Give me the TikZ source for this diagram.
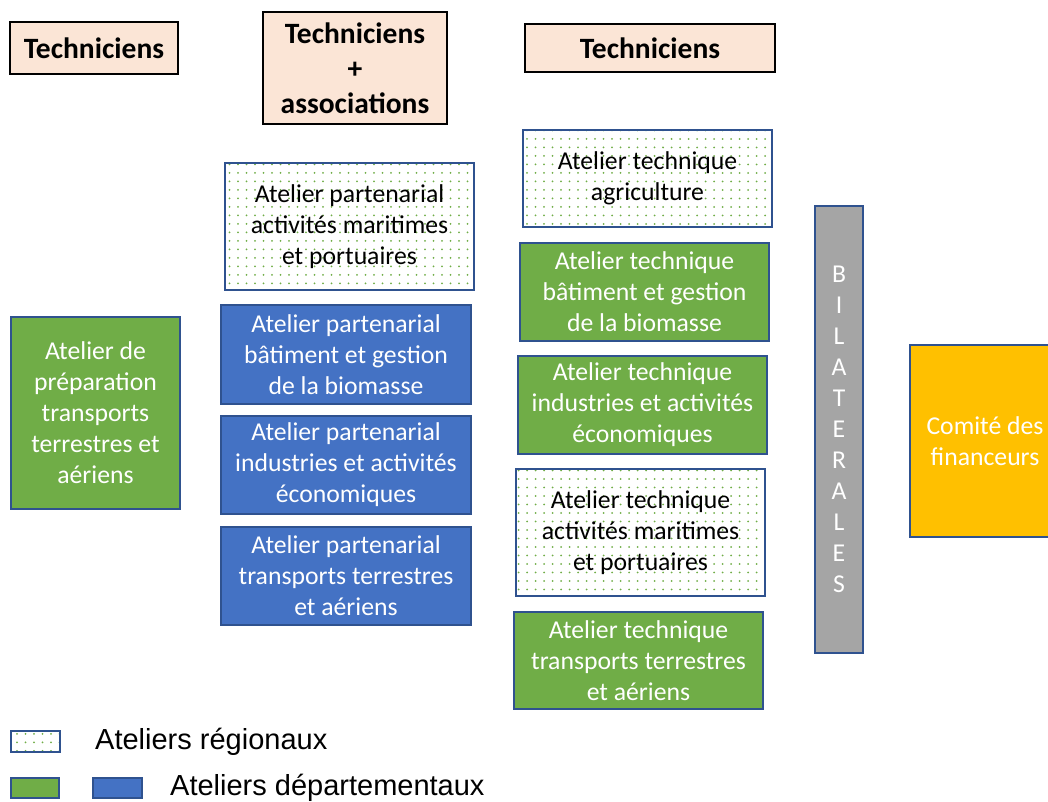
\documentclass[tikz,border=0pt]{standalone}
\usepackage{fontspec}
\setmainfont{Carlito}
\newfontfamily\legendfont{Liberation Sans}
\usetikzlibrary{patterns.meta}
\definecolor{peach}{HTML}{FBE5D6}
\definecolor{edgeblue}{HTML}{2F528F}
\definecolor{deptgreen}{HTML}{70AD47}
\definecolor{deptblue}{HTML}{4472C4}
\definecolor{bilgray}{HTML}{A5A5A5}
\definecolor{gold}{HTML}{FFC000}
\begin{document}
\begin{tikzpicture}[x=1pt,y=-1pt,
  tech/.style={draw=black,line width=2pt,fill=peach,align=center,inner sep=0pt,font=\fontsize{29.5}{35}\selectfont\bfseries},
  box/.style={draw=edgeblue,line width=2.5pt,align=center,inner sep=0pt,font=\fontsize{25.7}{31}\selectfont},
  regional/.style={box,pattern={Dots[distance=8.5pt,radius=1pt]},pattern color=deptgreen},
  deptg/.style={box,fill=deptgreen,text=white},
  deptb/.style={box,fill=deptblue,text=white},
  legend/.style={font=\legendfont\fontsize{29}{34}\selectfont,anchor=west,inner sep=0pt}]
\clip (0,0) rectangle (1048,802);
\node [tech,minimum width=168,minimum height=52] (tech1) at (94,48) {Techniciens};
\node [tech,minimum width=184,minimum height=112] (tech2) at (355,68) {Techniciens\\+\\associations};
\node [tech,minimum width=250,minimum height=48] (tech3) at (650,48) {Techniciens};

\node [deptg,minimum width=169,minimum height=192] (prep) at (95.5,413) {Atelier de\\préparation\\transports\\terrestres et\\aériens};

\node [regional,minimum width=249,minimum height=127] (pmar) at (349.5,226.5) {Atelier partenarial\\activités maritimes\\et portuaires};
\node [deptb,minimum width=250,minimum height=99] (pbat) at (346,354.5) {Atelier partenarial\\bâtiment et gestion\\de la biomasse};
\node [deptb,minimum width=250,minimum height=98] (pind) at (346,465) {Atelier partenarial\\industries et activités\\économiques};
\node [deptb,minimum width=250,minimum height=98] (ptra) at (346,576) {Atelier partenarial\\transports terrestres\\et aériens};

\node [regional,minimum width=249,minimum height=97] (tagr) at (647.5,178.5) {Atelier technique\\agriculture};
\node [deptg,minimum width=249,minimum height=98] (tbat) at (644.5,292) {Atelier technique\\bâtiment et gestion\\de la biomasse};
\node [deptg,minimum width=249,minimum height=98] (tind) at (642.5,405) {Atelier technique\\industries et activités\\économiques};
\node [regional,minimum width=249,minimum height=127] (tmar) at (640.5,532.5) {Atelier technique\\activités maritimes\\et portuaires};
\node [deptg,minimum width=249,minimum height=97] (ttra) at (638.5,660.5) {Atelier technique\\transports terrestres\\et aériens};

\node [box,fill=bilgray,text=white,minimum width=48,minimum height=447] (bil) at (839,429.5) {B\\I\\L\\A\\T\\E\\R\\A\\L\\E\\S};
\node [box,fill=gold,text=white,minimum width=150,minimum height=192] (comite) at (985,441) {Comité des\\financeurs};

\node [regional,line width=2pt,minimum width=49,minimum height=21] (lreg) at (35.5,741.5) {};
\node [legend] (lregtext) at (95,742) {Ateliers régionaux};
\node [deptg,line width=2pt,minimum width=48,minimum height=20] (lgreen) at (35,788) {};
\node [deptb,line width=2pt,minimum width=49,minimum height=20] (lblue) at (117.5,788) {};
\node [legend] (ldeptext) at (170,788) {Ateliers départementaux};
\end{tikzpicture}
\end{document}
